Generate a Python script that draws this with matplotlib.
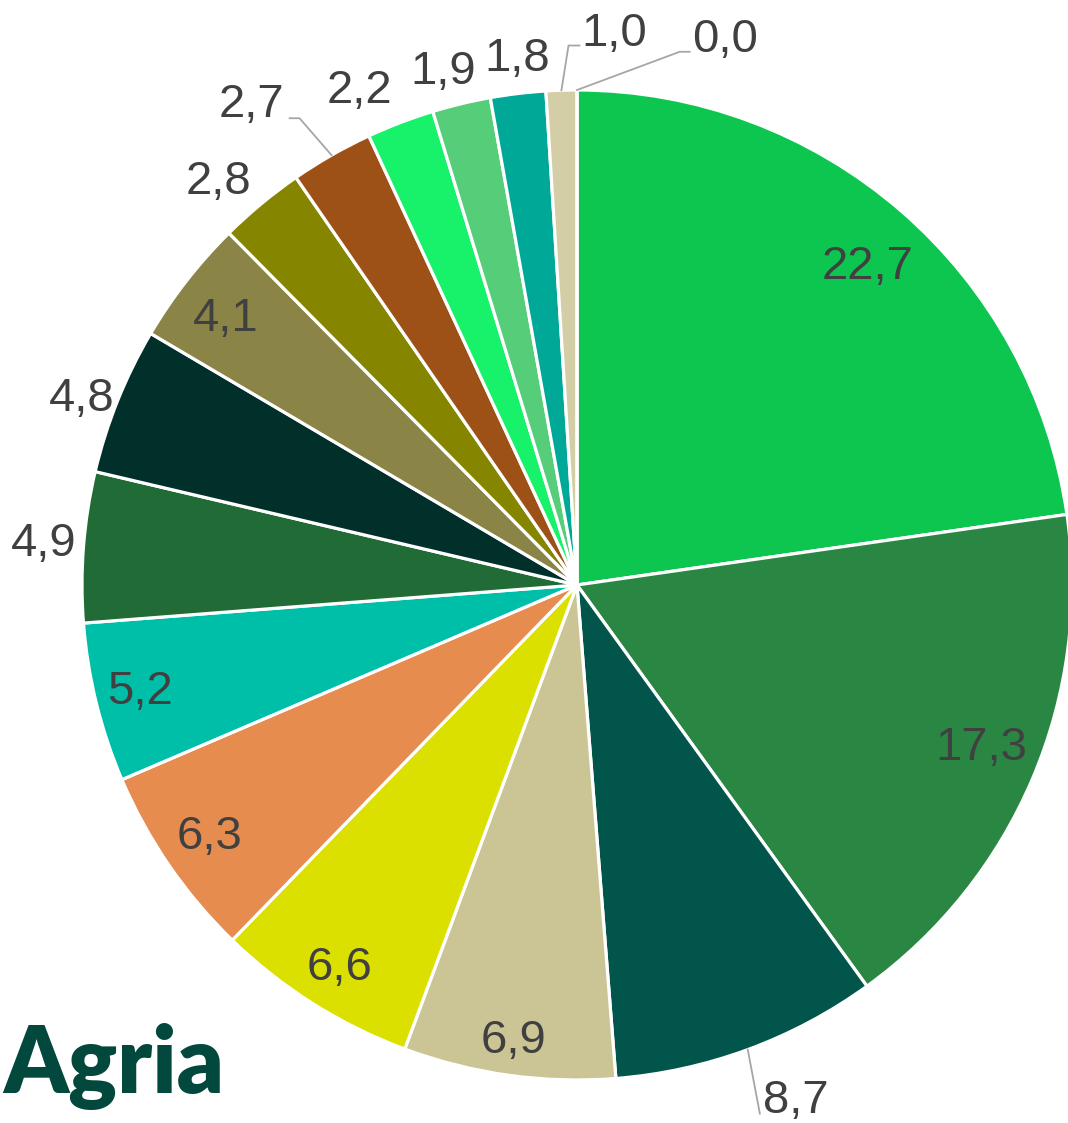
import numpy as np
import matplotlib
matplotlib.use("Agg")
import matplotlib.pyplot as plt

values = [22.7, 17.3, 8.7, 6.9, 6.6, 6.3, 5.2, 4.9, 4.8, 4.1, 2.8, 2.7, 2.2, 1.9, 1.8, 1.0, 0.0]
labels = ["22,7", "17,3", "8,7", "6,9", "6,6", "6,3", "5,2", "4,9", "4,8", "4,1",
          "2,8", "2,7", "2,2", "1,9", "1,8", "1,0", "0,0"]
colors = ["#0CC650", "#2A8743", "#02554A", "#CBC595", "#DCE000", "#E58C4E", "#00BFA8",
          "#216B36", "#01302A", "#8B8447", "#858500", "#9D5117", "#18F26A", "#56CE79",
          "#00A897", "#D3CEA6", "#C8C8C8"]

# label layout: (radius factor, angle offset deg) ; None -> leader line
label_r = [0.87, 0.88, None, 0.93, 0.91, 0.90, 0.91, 1.08, 1.07, 0.89,
           1.09, None, 1.09, 1.07, 1.07, None, None]
ang_off = [-1.5, 1.0, 0, 0, 0.5, 0, 0, 0, 1.3, 0.8, 2.0, 0, 2.9, 1.1, -0.4, 0, 0]
# leader specs: (elbow radius, elbow angle offset, horizontal dx, label side)
leaders = {2: (1.13, -1.1, 0.0, "below"), 11: (1.097, 1.0, -0.02, "left"),
           15: (1.09, -0.9, 0.022, "right"), 16: (1.097, -10.9, 0.02, "right")}

W, H = 1068, 1123
fig = plt.figure(figsize=(W / 100, H / 100), dpi=100)
cx, cy, R = 577, 585, 495
ax = fig.add_axes([(cx - R) / W, (H - cy - R) / H, 2 * R / W, 2 * R / H])

wedges, _ = ax.pie(values, colors=colors, startangle=90, counterclock=False,
                   radius=1.0, wedgeprops=dict(edgecolor="white", linewidth=2.3),
                   normalize=True)
ax.set_xlim(-1, 1)
ax.set_ylim(-1, 1)
ax.axis("off")
for w in wedges:
    w.set_clip_on(False)

tcol = "#404040"
fs = 34
font = "Liberation Sans"
for i, w in enumerate(wedges):
    mid = np.deg2rad((w.theta1 + w.theta2) / 2)
    if label_r[i] is not None:
        a = mid + np.deg2rad(ang_off[i])
        ax.text(label_r[i] * np.cos(a), label_r[i] * np.sin(a), labels[i], ha="center",
                va="center", fontsize=fs, color=tcol, family=font, clip_on=False)
    else:
        er, eoff, hdx, side = leaders[i]
        p0 = (np.cos(mid), np.sin(mid))
        a = mid + np.deg2rad(eoff)
        p1 = (er * np.cos(a), er * np.sin(a))
        p2 = (p1[0] + hdx, p1[1])
        ax.plot([p0[0], p1[0], p2[0]], [p0[1], p1[1], p2[1]], color="#A6A6A6",
                lw=1.3, clip_on=False)
        if side == "below":
            ax.text(p1[0] + 0.006, p1[1] + 0.025, labels[i], ha="left", va="center",
                    fontsize=fs, color=tcol, family=font, clip_on=False)
        elif side == "left":
            ax.text(p2[0] - 0.01, p2[1] + 0.026, labels[i], ha="right", va="center",
                    fontsize=fs, color=tcol, family=font, clip_on=False)
        else:
            ax.text(p2[0] + 0.005, p2[1] + 0.024, labels[i], ha="left", va="center",
                    fontsize=fs, color=tcol, family=font, clip_on=False)

fig.text(0.003, 1 - 1093 / H, "Agria", ha="left", va="baseline", fontsize=66,
         fontweight="heavy", family="Lato", color="#03483C")

fig.savefig("out.png", dpi=100)
